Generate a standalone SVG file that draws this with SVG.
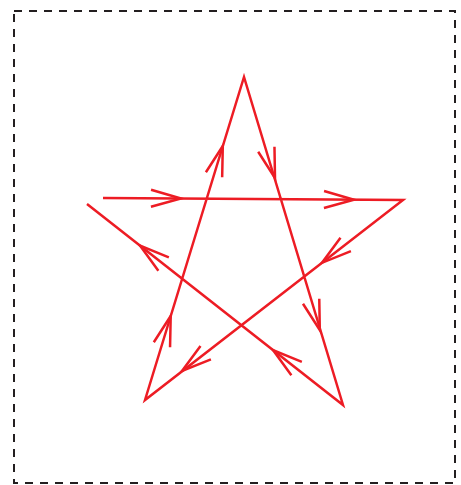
<svg xmlns="http://www.w3.org/2000/svg" width="461" height="485" viewBox="0 0 461 485">
<style>
.frame{fill:none;stroke:#231f20;stroke-width:2;stroke-dasharray:8 7}
.star{fill:none;stroke:#ed1c24;stroke-width:2.5;stroke-linejoin:miter;stroke-linecap:butt}
.head{fill:none;stroke:#ed1c24;stroke-width:2.5;stroke-linejoin:miter}
</style>
<defs>
<path id="chev" class="head" d="M-30,-8.5 L0,0 L-30,8.5"/>
</defs>
<rect class="frame" x="14" y="11" width="441" height="472"/>
<g id="connectors">
<path id="star" class="star" d="M103,198 L403,200 L145,400 L244,77 L343,405 L87,204"/>
<use href="#chev" transform="translate(181,198.5) rotate(0.4)"/>
<use href="#chev" transform="translate(354,199.7) rotate(0.4)"/>
<use href="#chev" transform="translate(322,262.8) rotate(142.2)"/>
<use href="#chev" transform="translate(182,371) rotate(142.2)"/>
<use href="#chev" transform="translate(170.7,316) rotate(-73)"/>
<use href="#chev" transform="translate(222.8,146) rotate(-73)"/>
<use href="#chev" transform="translate(275,178) rotate(73.2)"/>
<use href="#chev" transform="translate(319.8,330) rotate(73.2)"/>
<use href="#chev" transform="translate(273,350) rotate(218.1)"/>
<use href="#chev" transform="translate(140,245.6) rotate(218.1)"/>
</g>
</svg>
